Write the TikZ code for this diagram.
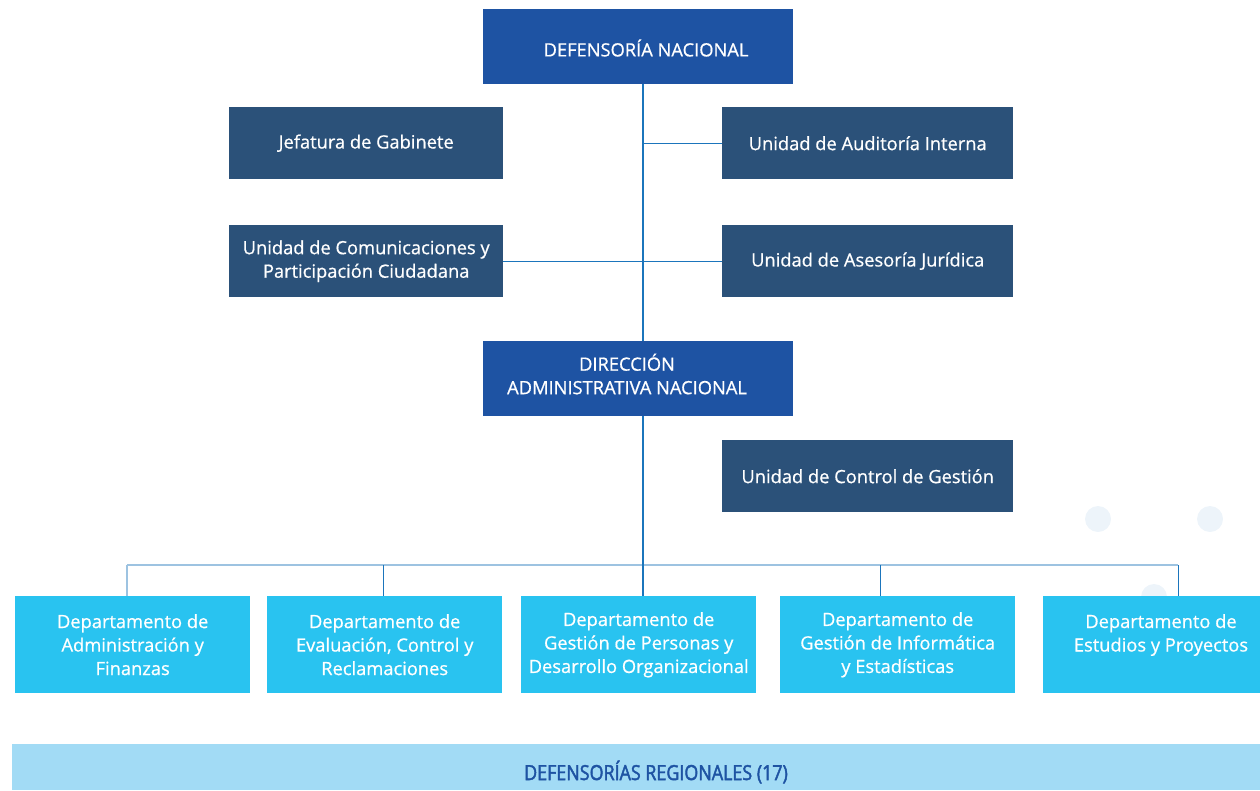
\documentclass[tikz,border=0pt]{standalone}
\usepackage{fontspec}
\setmainfont{Open Sans}
\newfontfamily\semi{Open Sans}[FakeBold=0.7]
\newfontfamily\cond{Open Sans}[FakeStretch=0.86,FakeBold=2]
\usetikzlibrary{backgrounds}
\definecolor{topblue}{HTML}{1E53A3}
\definecolor{navy}{HTML}{2B5179}
\definecolor{sky}{HTML}{29C3F0}
\definecolor{pale}{HTML}{A2DBF5}
\definecolor{trunkc}{HTML}{1B75BC}
\definecolor{busc}{HTML}{9DC3E1}
\definecolor{dotc}{HTML}{EDF4FA}
\begin{document}
\begin{tikzpicture}[x=1pt,y=-1pt,
  txt/.style={inner sep=0pt,align=center,text=white,font=\semi\fontsize{18.3}{23.5}\selectfont},
  base/.style={txt,anchor=north west},
  topbox/.style={base,fill=topblue,minimum width=310pt,minimum height=75pt},
  unitbox/.style={base,fill=navy,minimum width=#1,minimum height=72pt},
  depbox/.style={base,fill=sky,minimum width=235pt,minimum height=97pt},
  trunk/.style={draw=trunkc,line width=2pt},
  branch/.style={draw=trunkc,line width=1.2pt},
  bus/.style={draw=busc,line width=2pt},
  drop/.style={draw=trunkc,line width=1pt},
  dot/.style={fill=dotc,draw=none}]
\useasboundingbox (0,0) rectangle (1260,790);
% decorative dots
\fill[dot] (1098,519) circle (13);
\fill[dot] (1210,519) circle (13);
\fill[dot] (1154,597) circle (13);
% nodes
\node[topbox] (dn) at (483,9) {};
\node[txt] (dnt) at (646,48) {DEFENSORÍA NACIONAL};
\node[unitbox=274pt] (jef) at (229,107) {\raisebox{-4pt}{Jefatura de Gabinete}};
\node[unitbox=291pt] (aud) at (722,107) {\raisebox{-3pt}{Unidad de Auditoría Interna}};
\node[unitbox=274pt] (com) at (229,225) {Unidad de Comunicaciones y\\Participación Ciudadana};
\node[unitbox=291pt] (ase) at (722,225) {\raisebox{-3pt}{Unidad de Asesoría Jurídica}};
\node[topbox] (dan) at (483,341) {};
\node[txt] (dant) at (627,374) {DIRECCIÓN\\ADMINISTRATIVA NACIONAL};
\node[unitbox=291pt] (ucg) at (722,440) {\raisebox{-2pt}{Unidad de Control de Gestión}};
\node[depbox] (d1) at (15,596) {Departamento de\\Administración y\\Finanzas};
\node[depbox] (d2) at (267,596) {Departamento de\\Evaluación, Control y\\Reclamaciones};
\node[depbox] (d3) at (521,596) {Departamento de\\Gestión de Personas y\\Desarrollo Organizacional};
\node[depbox] (d4) at (780,596) {Departamento de\\Gestión de Informática\\y Estadísticas};
\node[depbox,minimum width=217pt] (d5) at (1043,596) {};
\node[txt] (d5t) at (1161,635) {Departamento de\\Estudios y Proyectos};
\node[anchor=north west,inner sep=0pt,fill=pale,minimum width=1248pt,minimum height=46pt] (reg) at (12,744) {};
\node[inner sep=0pt,font=\cond\fontsize{20.8}{24}\selectfont,text=topblue] (regt) at (656,772) {DEFENSORÍAS REGIONALES (17)};
% connectors
\begin{scope}[on background layer]
\coordinate (tx) at (643,0);
\coordinate (b1) at (127,565);
\coordinate (b2) at (383,565);
\coordinate (b4) at (880,565);
\coordinate (b5) at (1178,565);
\draw[bus] (b1) -- (b5);
\draw[bus] (b1) -- (b1 |- d1.north);
\draw[drop] (b2) -- ([yshift=-6]b2 |- d2.north);
\draw[drop] (b4) -- ([yshift=-6]b4 |- d4.north);
\draw[drop] (b5) -- ([yshift=-6]b5 |- d5.north);
\draw[branch] (tx |- aud.west) -- (aud.west);
\draw[branch] (com.east) -- (ase.west);
\draw[trunk] (dn.south -| tx) -- (d3.north -| tx);
\end{scope}
\end{tikzpicture}
\end{document}
